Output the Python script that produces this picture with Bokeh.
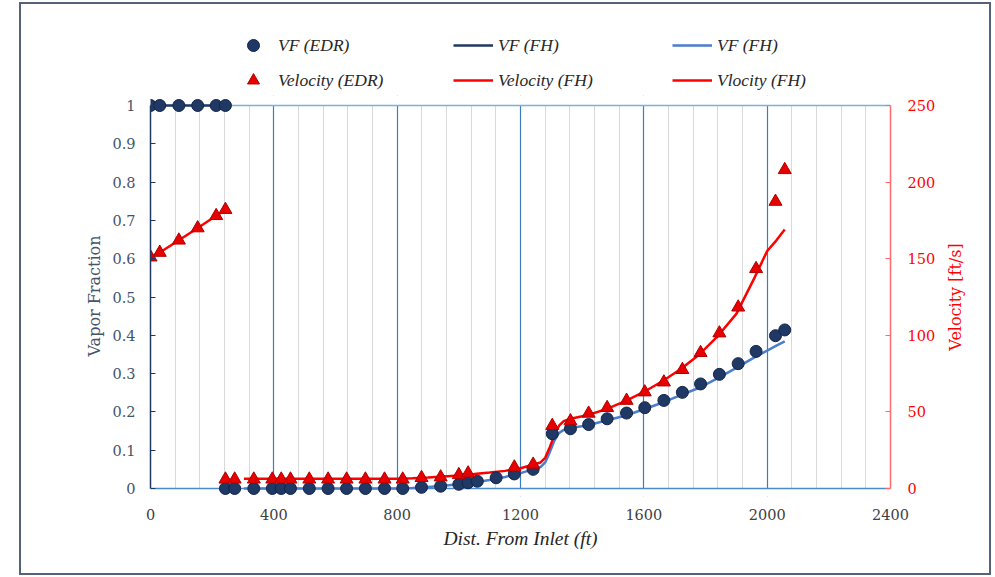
import math
from bokeh.plotting import figure
from bokeh.layouts import column, row
from bokeh.models import (Range1d, LinearAxis, FixedTicker, Legend, LegendItem, Label,
                          Span, BoxAnnotation)
from bokeh.embed import file_html
from bokeh.resources import INLINE

# ---------------- data ----------------
# Vapour fraction measured (EDR)
vf_edr_x = [0, 30, 92, 153, 213, 243,
            243, 273, 335, 395, 424, 454, 515, 576, 636, 697, 759, 818,
            879, 941, 1000, 1030, 1060, 1121, 1180, 1241, 1303, 1362, 1421,
            1481, 1544, 1603, 1665, 1725, 1784, 1845, 1906, 1964, 2027, 2057]
vf_edr = [1, 1, 1, 1, 1, 1,
          0, 0, 0, 0, 0, 0, 0, 0, 0, 0, 0, 0,
          0.003, 0.006, 0.011, 0.015, 0.019, 0.028, 0.038, 0.050, 0.143, 0.156, 0.167,
          0.182, 0.197, 0.211, 0.230, 0.251, 0.273, 0.298, 0.326, 0.358, 0.399, 0.414]

# Velocity measured (EDR)
vel_edr_x = [0, 30, 92, 153, 213, 243,
             243, 273, 335, 395, 424, 454, 515, 576, 636, 697, 759, 818,
             879, 941, 1000, 1030, 1180, 1241, 1303, 1362, 1421,
             1481, 1544, 1603, 1665, 1725, 1784, 1845, 1906, 1964, 2027, 2057]
vel_edr = [151, 154, 162, 170, 178, 182,
           6, 6, 6, 6, 6, 6, 6, 6, 6, 6, 6, 6,
           7, 7.4, 8.9, 10, 13.9, 15.7, 41, 44, 49,
           52.7, 57.4, 62.9, 69.4, 77.5, 88.6, 101.4, 118.3, 143.4, 187.3, 208]

# First FH section (upstream)
fh1_x = [0, 30, 92, 153, 213, 243]
vf_fh1 = [1, 1, 1, 1, 1, 1]
vel_fh1 = [151, 154, 162, 170, 178, 182]

# Second FH section (downstream)
fh2_x = [303, 400, 500, 600, 700, 800, 850, 900, 950, 1000, 1050, 1100, 1150, 1200,
         1240, 1265, 1280, 1295, 1310, 1325, 1340, 1362, 1420, 1480, 1540, 1600,
         1660, 1720, 1780, 1840, 1900, 1960, 2000, 2030, 2057]
vf_fh2 = [0, 0, 0, 0, 0, 0, 0.001, 0.004, 0.007, 0.011, 0.016, 0.022, 0.030, 0.040,
          0.050, 0.056, 0.068, 0.095, 0.125, 0.145, 0.153, 0.158, 0.165, 0.178, 0.190, 0.207,
          0.224, 0.244, 0.263, 0.288, 0.315, 0.343, 0.360, 0.373, 0.384]
vel_fh2 = [6.3, 6.3, 6.3, 6.3, 6.3, 6.4, 6.7, 7.2, 7.8, 8.5, 9.4, 10.4, 11.5, 13.2,
           15.5, 17, 20, 27, 35, 41, 44, 45.5, 48, 52, 57, 63,
           70, 78, 87.5, 99.5, 114, 138, 155, 162, 169]

x_ticks = [0, 400, 800, 1200, 1600, 2000, 2400]
x_minor = [80, 160, 240, 320, 480, 560, 640, 720, 880, 960, 1040, 1120,
           1280, 1360, 1440, 1520, 1680, 1760, 1840, 1920, 2080, 2160, 2240, 2320]
vf_ticks = [0, 0.1, 0.2, 0.3, 0.4, 0.5, 0.6, 0.7, 0.8, 0.9, 1]
vel_ticks = [0, 50, 100, 150, 200, 250]

x_title = "Dist. From Inlet (ft)"
y_title = "Vapor Fraction"
y2_title = "Velocity [ft/s]"

NAVY = "#1f3864"
LBLUE = "#4a7ccf"
RED = "#ff0000"
SERIF = "DejaVu Serif"

line_styles = {
    "vf_fh1": dict(line_color=NAVY, line_width=2.5),
    "vel_fh1": dict(line_color=RED, line_width=2.5),
    "vf_fh2": dict(line_color=LBLUE, line_width=2.5),
    "vel_fh2": dict(line_color=RED, line_width=2.5),
}
circle_style = dict(marker="circle", size=12, fill_color=NAVY, line_color="#13254a")
tri_style = dict(marker="triangle", size=13, fill_color="#e60000", line_color="#b00000")

# frame padding (px) so markers at 0 and 1 are not cut by the frame
PX_PER_UNIT = 383.0
PAD_TOP, PAD_BOT = 10, 8
vf_lo, vf_hi = -PAD_BOT / PX_PER_UNIT, 1 + PAD_TOP / PX_PER_UNIT
VEL_MAX = 250

# ---------------- main plot ----------------
p = figure(width=919, height=478, x_range=Range1d(0, 2400), y_range=Range1d(vf_lo, vf_hi),
           output_backend="svg", toolbar_location=None,
           min_border_left=129, min_border_right=50, min_border_top=0,
           min_border_bottom=85 - PAD_BOT,
           background_fill_color="white", border_fill_color="white")
p.extra_y_ranges = {"vel": Range1d(vf_lo * VEL_MAX, vf_hi * VEL_MAX)}
p.outline_line_color = None

xa = p.xaxis[0]
xa.ticker = FixedTicker(ticks=x_ticks, minor_ticks=x_minor)
xa.major_tick_line_color = None
xa.minor_tick_line_color = None
xa.axis_line_color = None
xa.major_label_text_font = SERIF
xa.major_label_text_font_size = "14.5px"
xa.major_label_text_color = "#404040"
xa.major_label_standoff = 14 - PAD_BOT
xa.axis_label = x_title
xa.axis_label_text_font = "Liberation Serif"
xa.axis_label_text_font_style = "italic"
xa.axis_label_text_font_size = "19.5px"
xa.axis_label_text_color = "#262626"
xa.axis_label_standoff = 5

p.xgrid.grid_line_color = "#3d7cc0"
p.xgrid.grid_line_width = 1.2
p.xgrid.minor_grid_line_color = "#d9d9d9"
p.xgrid.minor_grid_line_width = 1
p.ygrid.grid_line_color = None

# white masks hiding grid beyond the 0..1 band
p.add_layout(BoxAnnotation(bottom=1, top=vf_hi, left=0, right=2400, fill_color="white",
                           fill_alpha=1, line_color=None, level="underlay"))
p.add_layout(BoxAnnotation(bottom=vf_lo, top=0, left=0, right=2400, fill_color="white",
                           fill_alpha=1, line_color=None, level="underlay"))
# plot-area top edge and bottom axis line
p.add_layout(Span(location=1, dimension="width", line_color="#7ab0e0", line_width=1.5,
                  level="underlay"))
p.add_layout(Span(location=0, dimension="width", line_color="#4a8bd0", line_width=1.5,
                  level="underlay"))

ya = p.yaxis[0]
ya.bounds = (0, 1)
ya.ticker = FixedTicker(ticks=vf_ticks)
ya.major_label_overrides = {0: "0", 1: "1"}
ya.major_tick_in = 5
ya.major_tick_out = 0
ya.minor_tick_line_color = None
ya.axis_line_color = NAVY
ya.axis_line_width = 1.5
ya.major_tick_line_color = NAVY
ya.major_label_text_font = SERIF
ya.major_label_text_font_size = "14.5px"
ya.major_label_text_color = "#44546a"
ya.major_label_standoff = 15
ya.axis_label = y_title
ya.axis_label_text_font = SERIF
ya.axis_label_text_font_style = "normal"
ya.axis_label_text_font_size = "16px"
ya.axis_label_text_color = "#44546a"
ya.axis_label_standoff = 5

ra = LinearAxis(y_range_name="vel", ticker=FixedTicker(ticks=vel_ticks), bounds=(0, VEL_MAX))
ra.major_tick_in = 5
ra.major_tick_out = 0
ra.minor_tick_line_color = None
ra.axis_line_color = "#ff6b6b"
ra.axis_line_width = 1.5
ra.major_tick_line_color = "#ff6b6b"
ra.major_label_text_font = SERIF
ra.major_label_text_font_size = "14.5px"
ra.major_label_text_color = RED
ra.major_label_standoff = 17
p.add_layout(ra, "right")

p.line(fh1_x, vf_fh1, **line_styles["vf_fh1"])
p.line(fh1_x, vel_fh1, y_range_name="vel", **line_styles["vel_fh1"])
p.line(fh2_x, vf_fh2, **line_styles["vf_fh2"])
p.line(fh2_x, vel_fh2, y_range_name="vel", **line_styles["vel_fh2"])
p.scatter(vf_edr_x, vf_edr, **circle_style)
p.scatter(vel_edr_x, vel_edr, y_range_name="vel", **tri_style)

# ---------------- right title strip ----------------
tf = figure(width=49, height=478, x_range=Range1d(0, 49), y_range=Range1d(vf_lo, vf_hi),
            output_backend="svg", toolbar_location=None,
            x_axis_location=None, y_axis_location=None,
            min_border_left=0, min_border_right=0, min_border_top=0,
            min_border_bottom=85 - PAD_BOT,
            background_fill_color="white", border_fill_color="white")
tf.outline_line_color = None
tf.xgrid.grid_line_color = None
tf.ygrid.grid_line_color = None
tf.add_layout(Label(x=15, y=0.5, text=y2_title, angle=math.pi / 2,
                    text_align="center", text_baseline="middle",
                    text_color=RED, text_font=SERIF, text_font_size="16px"))

# ---------------- legend strip ----------------
lg = figure(width=968, height=91, x_range=Range1d(0, 1), y_range=Range1d(0, 1),
            output_backend="svg", toolbar_location=None,
            x_axis_location=None, y_axis_location=None,
            min_border_left=129, min_border_right=99, min_border_top=0, min_border_bottom=0,
            background_fill_color="white", border_fill_color="white")
lg.outline_line_color = None
lg.xgrid.grid_line_color = None
lg.ygrid.grid_line_color = None
hx, hy = [-2, -1], [-2, -1]
d_vf_edr = lg.scatter(hx, hy, **circle_style)
d_vel_edr = lg.scatter(hx, hy, **tri_style)
d_vf_fh1 = lg.line(hx, hy, **line_styles["vf_fh1"])
d_vel_fh1 = lg.line(hx, hy, **line_styles["vel_fh1"])
d_vf_fh2 = lg.line(hx, hy, **line_styles["vf_fh2"])
d_vel_fh2 = lg.line(hx, hy, **line_styles["vel_fh2"])

def make_legend(items, vx):
    return Legend(items=items, location=(vx, 0), orientation="vertical",
                  border_line_color=None, background_fill_alpha=0,
                  padding=0, margin=0, spacing=5,
                  glyph_width=40, glyph_height=30, label_height=30, label_standoff=5,
                  label_text_font="Liberation Serif", label_text_font_style="italic",
                  label_text_font_size="17.5px", label_text_color="#262626")

lg.add_layout(make_legend([LegendItem(label="VF (EDR)", renderers=[d_vf_edr]),
                           LegendItem(label="Velocity (EDR)", renderers=[d_vel_edr])], 83))
lg.add_layout(make_legend([LegendItem(label="VF (FH)", renderers=[d_vf_fh1]),
                           LegendItem(label="Velocity (FH)", renderers=[d_vel_fh1])], 303))
lg.add_layout(make_legend([LegendItem(label="VF (FH)", renderers=[d_vf_fh2]),
                           LegendItem(label="Vlocity (FH)", renderers=[d_vel_fh2])], 522))

layout = column(lg, row(p, tf, spacing=0), spacing=0,
                styles={"border": "2px solid #56617a", "margin-left": "19px",
                        "margin-top": "2px", "width": "972px", "height": "573px",
                        "box-sizing": "border-box"})

open("out.html", "w").write(file_html(layout, INLINE))
